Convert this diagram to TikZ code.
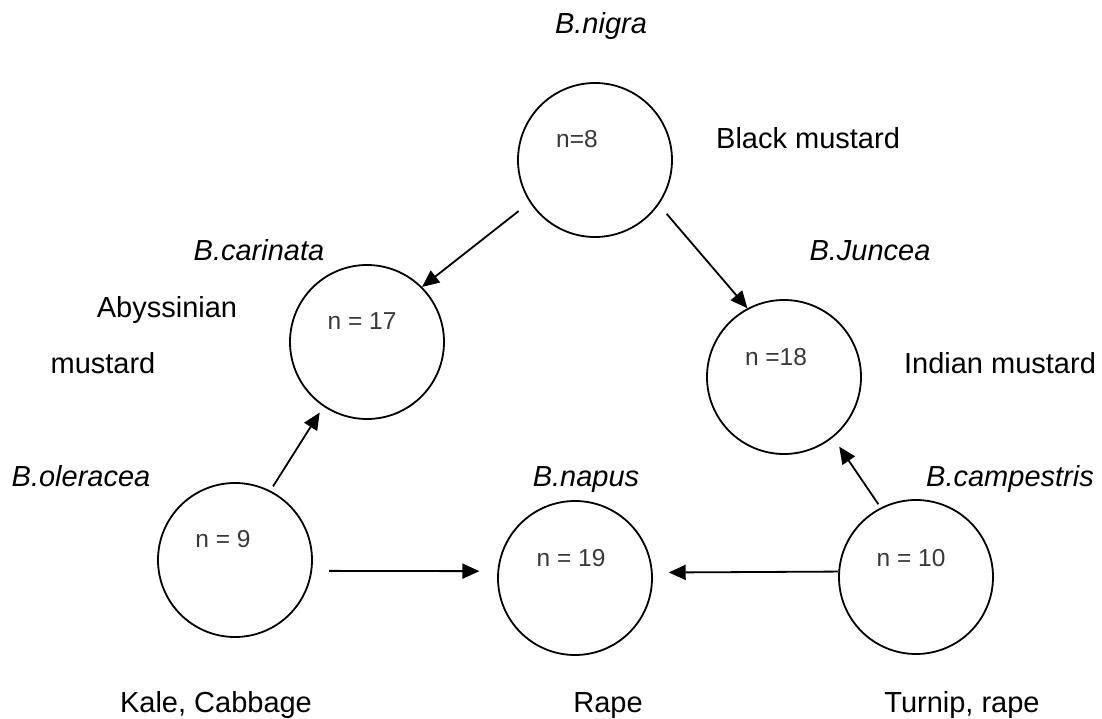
\documentclass[tikz,border=0pt]{standalone}
\usepackage{fontspec}
\setmainfont{Liberation Sans}
\usetikzlibrary{arrows.meta}
\begin{document}
\begin{tikzpicture}[x=1pt,y=1pt,
  species/.style={circle,draw,line width=1.8pt,minimum size=154pt,inner sep=0pt},
  lbl/.style={font=\fontsize{29}{34}\selectfont\itshape,anchor=base,inner sep=0pt},
  common/.style={font=\fontsize{29}{34}\selectfont,anchor=base,inner sep=0pt},
  chrom/.style={font=\fontsize{24.5}{28}\selectfont,text=black!78,anchor=base,inner sep=0pt},
  arr/.style={line width=1.8pt,-{Triangle[length=17pt,width=15pt]}}]
\useasboundingbox (0,0) rectangle (1102,-719);
% circles
\node[species] (nigra) at (595,-160) {};
\node[species] (carinata) at (367,-342) {};
\node[species] (juncea) at (784,-377) {};
\node[species] (oleracea) at (235,-560) {};
\node[species] (napus) at (575,-578) {};
\node[species] (campestris) at (916,-577) {};
% chromosome numbers
\node[chrom] (n8) at (577,-148) {n=8};
\node[chrom] (n17) at (362,-329) {n = 17};
\node[chrom] (n18) at (776,-365) {n =18};
\node[chrom] (n9) at (223,-547) {n = 9};
\node[chrom] (n19) at (571,-566) {n = 19};
\node[chrom] (n10) at (911,-566) {n = 10};
% species names
\node[lbl] (tnigra) at (601,-34) {B.nigra};
\node[lbl] (tcarinata) at (259,-260) {B.carinata};
\node[lbl] (tjuncea) at (870,-260) {B.Juncea};
\node[lbl] (toleracea) at (81,-486) {B.oleracea};
\node[lbl] (tnapus) at (586,-486) {B.napus};
\node[lbl] (tcampestris) at (1010,-486) {B.campestris};
% common names
\node[common,anchor=base west] (cnigra) at (716,-149) {Black mustard};
\node[common] (ccar1) at (167,-317) {Abyssinian};
\node[common] (ccar2) at (103,-373) {mustard};
\node[common] (cjuncea) at (1000,-373) {Indian mustard};
\node[common] (coleracea) at (216,-712) {Kale, Cabbage};
\node[common] (cnapus) at (608,-712) {Rape};
\node[common] (ccampestris) at (962,-712) {Turnip, rape};
% arrows
\draw[arr,shorten <=14pt] (nigra.213.5) -- (carinata.45);
\draw[arr,shorten <=12pt] (nigra.325.4) -- (juncea.118.4);
\draw[arr,shorten <=5pt,shorten >=7pt] (oleracea.63.7) -- (carinata.236.5);
\draw[arr,shorten <=17pt,shorten >=18pt] (oleracea.-8.85) -- (napus.175.6);
\draw[arr,shorten >=16pt] (campestris.176.3) -- (napus.4.4);
\draw[arr,shorten <=4pt,shorten >=11pt] (campestris.117.5) -- (juncea.-51.3);
\end{tikzpicture}
\end{document}
